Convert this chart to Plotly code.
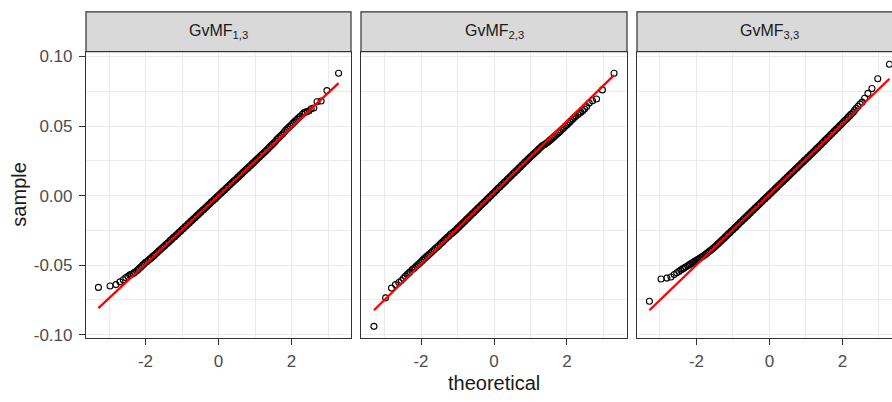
import plotly.graph_objects as go

# ---------------- data ----------------
panel_labels = ["GvMF<sub>1,3</sub>", "GvMF<sub>2,3</sub>", "GvMF<sub>3,3</sub>"]

# theoretical normal quantiles
theo_low_tail = [-3.29, -2.97, -2.81, -2.70, -2.61, -2.54, -2.48, -2.43, -2.38, -2.34, -2.30]
theo_body = [
    -2.24, -2.20, -2.16, -2.12, -2.08, -2.04, -2.00, -1.96, -1.92, -1.88, -1.84,
    -1.80, -1.76, -1.72, -1.68, -1.64, -1.60, -1.56, -1.52, -1.48, -1.44, -1.40,
    -1.36, -1.32, -1.28, -1.24, -1.20, -1.16, -1.12, -1.08, -1.04, -1.00, -0.96,
    -0.92, -0.88, -0.84, -0.80, -0.76, -0.72, -0.68, -0.64, -0.60, -0.56, -0.52,
    -0.48, -0.44, -0.40, -0.36, -0.32, -0.28, -0.24, -0.20, -0.16, -0.12, -0.08,
    -0.04, 0.00, 0.04, 0.08, 0.12, 0.16, 0.20, 0.24, 0.28, 0.32, 0.36,
    0.40, 0.44, 0.48, 0.52, 0.56, 0.60, 0.64, 0.68, 0.72, 0.76, 0.80,
    0.84, 0.88, 0.92, 0.96, 1.00, 1.04, 1.08, 1.12, 1.16, 1.20, 1.24,
    1.28, 1.32, 1.36, 1.40, 1.44, 1.48, 1.52, 1.56, 1.60, 1.64, 1.68,
    1.72, 1.76, 1.80, 1.84, 1.88, 1.92, 1.96, 2.00, 2.04, 2.08, 2.12,
    2.16, 2.20, 2.24,
]
theo_up_tail = [2.30, 2.34, 2.38, 2.43, 2.48, 2.54, 2.61, 2.70, 2.81, 2.97, 3.29]
theoretical = theo_low_tail + theo_body + theo_up_tail

# sorted sample values, panel 1 (GvMF_1,3)
s1_low = [-0.0660, -0.0650, -0.0640, -0.0620, -0.0605, -0.0590, -0.0580, -0.0570, -0.0565, -0.0560, -0.0552]
s1_body = [
    -0.0540, -0.0532, -0.0520, -0.0512, -0.0500, -0.0492, -0.0480, -0.0474, -0.0465, -0.0455, -0.0448,
    -0.0437, -0.0430, -0.0418, -0.0410, -0.0398, -0.0390, -0.0380, -0.0370, -0.0362, -0.0350, -0.0343,
    -0.0333, -0.0322, -0.0314, -0.0302, -0.0295, -0.0283, -0.0276, -0.0264, -0.0256, -0.0244, -0.0237,
    -0.0224, -0.0217, -0.0205, -0.0197, -0.0185, -0.0178, -0.0165, -0.0158, -0.0146, -0.0138, -0.0126,
    -0.0118, -0.0106, -0.0099, -0.0087, -0.0079, -0.0067, -0.0059, -0.0047, -0.0039, -0.0028, -0.0020,
    -0.0008, 0.0000, 0.0012, 0.0020, 0.0032, 0.0039, 0.0051, 0.0059, 0.0071, 0.0079, 0.0091,
    0.0099, 0.0110, 0.0118, 0.0130, 0.0138, 0.0150, 0.0158, 0.0169, 0.0178, 0.0189, 0.0197,
    0.0209, 0.0217, 0.0228, 0.0237, 0.0248, 0.0257, 0.0268, 0.0277, 0.0288, 0.0297, 0.0308,
    0.0317, 0.0328, 0.0337, 0.0349, 0.0360, 0.0369, 0.0380, 0.0391, 0.0405, 0.0414, 0.0425,
    0.0434, 0.0445, 0.0457, 0.0470, 0.0480, 0.0490, 0.0501, 0.0510, 0.0521, 0.0530, 0.0541,
    0.0550, 0.0561, 0.0570,
]
s1_up = [0.0585, 0.0595, 0.0600, 0.0605, 0.0610, 0.0625, 0.0630, 0.0675, 0.0680, 0.0755, 0.0880]

# panel 2 (GvMF_2,3)
s2_low = [-0.0940, -0.0735, -0.0665, -0.0640, -0.0625, -0.0610, -0.0595, -0.0580, -0.0568, -0.0558, -0.0548]
s2_body = [
    -0.0532, -0.0524, -0.0515, -0.0505, -0.0495, -0.0486, -0.0475, -0.0466, -0.0455, -0.0446, -0.0436,
    -0.0428, -0.0418, -0.0409, -0.0398, -0.0389, -0.0378, -0.0370, -0.0360, -0.0350, -0.0340, -0.0331,
    -0.0320, -0.0311, -0.0300, -0.0292, -0.0280, -0.0272, -0.0264, -0.0254, -0.0245, -0.0234, -0.0226,
    -0.0213, -0.0205, -0.0193, -0.0185, -0.0172, -0.0164, -0.0152, -0.0143, -0.0131, -0.0123, -0.0111,
    -0.0102, -0.0090, -0.0082, -0.0070, -0.0061, -0.0049, -0.0041, -0.0028, -0.0020, -0.0008, 0.0000,
    0.0013, 0.0021, 0.0033, 0.0042, 0.0054, 0.0062, 0.0074, 0.0083, 0.0095, 0.0103, 0.0116,
    0.0124, 0.0136, 0.0144, 0.0157, 0.0165, 0.0177, 0.0185, 0.0198, 0.0206, 0.0218, 0.0227,
    0.0239, 0.0247, 0.0259, 0.0268, 0.0279, 0.0288, 0.0298, 0.0308, 0.0317, 0.0327, 0.0338,
    0.0347, 0.0358, 0.0364, 0.0370, 0.0378, 0.0386, 0.0395, 0.0404, 0.0413, 0.0422, 0.0432,
    0.0441, 0.0450, 0.0460, 0.0470, 0.0480, 0.0490, 0.0500, 0.0510, 0.0520, 0.0530, 0.0541,
    0.0551, 0.0561, 0.0570,
]
s2_up = [0.0583, 0.0592, 0.0600, 0.0610, 0.0622, 0.0640, 0.0665, 0.0682, 0.0695, 0.0760, 0.0880]

# panel 3 (GvMF_3,3)
s3_low = [-0.0760, -0.0600, -0.0593, -0.0585, -0.0568, -0.0555, -0.0545, -0.0535, -0.0527, -0.0520, -0.0513]
s3_body = [
    -0.0505, -0.0498, -0.0490, -0.0484, -0.0478, -0.0471, -0.0465, -0.0458, -0.0452, -0.0445, -0.0438,
    -0.0431, -0.0423, -0.0415, -0.0407, -0.0399, -0.0391, -0.0382, -0.0373, -0.0364, -0.0354, -0.0345,
    -0.0334, -0.0325, -0.0314, -0.0306, -0.0294, -0.0285, -0.0273, -0.0265, -0.0253, -0.0245, -0.0233,
    -0.0225, -0.0213, -0.0205, -0.0192, -0.0184, -0.0172, -0.0164, -0.0152, -0.0144, -0.0132, -0.0124,
    -0.0111, -0.0103, -0.0091, -0.0083, -0.0071, -0.0063, -0.0051, -0.0043, -0.0030, -0.0022, -0.0010,
    -0.0002, 0.0010, 0.0018, 0.0030, 0.0038, 0.0050, 0.0059, 0.0071, 0.0079, 0.0091, 0.0099,
    0.0111, 0.0119, 0.0131, 0.0140, 0.0152, 0.0160, 0.0172, 0.0180, 0.0192, 0.0200, 0.0212,
    0.0221, 0.0233, 0.0241, 0.0253, 0.0261, 0.0273, 0.0281, 0.0293, 0.0302, 0.0314, 0.0322,
    0.0334, 0.0343, 0.0355, 0.0364, 0.0376, 0.0385, 0.0397, 0.0406, 0.0418, 0.0427, 0.0439,
    0.0448, 0.0460, 0.0469, 0.0481, 0.0490, 0.0502, 0.0511, 0.0522, 0.0532, 0.0543, 0.0553,
    0.0564, 0.0575, 0.0586,
]
s3_up = [0.0600, 0.0615, 0.0628, 0.0642, 0.0658, 0.0672, 0.0700, 0.0735, 0.0770, 0.0840, 0.0944]

samples = [s1_low + s1_body + s1_up, s2_low + s2_body + s2_up, s3_low + s3_body + s3_up]

# reference (qq) line per panel: intercept, slope
qq_intercepts = [0.0000, 0.0021, 0.0008]
qq_slopes = [0.0246, 0.0257, 0.0253]

x_tick_vals = [-2, 0, 2]
x_tick_text = ["-2", "0", "2"]
y_tick_vals = [-0.10, -0.05, 0.00, 0.05, 0.10]
y_tick_text = ["-0.10", "-0.05", "0.00", "0.05", "0.10"]

x_title = "theoretical"
y_title = "sample"

# ---------------- layout geometry ----------------
W, H = 892, 402
panel_px = [(86, 351), (361, 627), (637, 892)]
x_ranges = [[-3.63, 3.63], [-3.645, 3.645], [-3.63, 3.36]]
plot_top, plot_bot = 49, 343
strip_top = 8

y_dom = [1 - plot_bot / H, 1 - plot_top / H]
y_range = [-0.1021, 0.1035]

BORDER = "#333333"
GRID = "#EBEBEB"
TICKCOL = "#4D4D4D"
FONT = "Liberation Sans, Arial, sans-serif"

fig = go.Figure()

for i in range(3):
    xa = "x" if i == 0 else f"x{i+1}"
    ya = "y" if i == 0 else f"y{i+1}"
    n = min(len(theoretical), len(samples[i]))
    fig.add_trace(go.Scatter(
        x=theoretical[:n], y=samples[i][:n], mode="markers", xaxis=xa, yaxis=ya,
        marker=dict(symbol="circle-open", size=6, color="black", line=dict(width=1.1, color="black")),
        showlegend=False, hoverinfo="x+y",
    ))
    xs = [min(theoretical), max(theoretical)]
    ys = [qq_intercepts[i] + qq_slopes[i] * v for v in xs]
    fig.add_trace(go.Scatter(
        x=xs, y=ys, mode="lines", xaxis=xa, yaxis=ya,
        line=dict(color="#FF0000", width=2.3), showlegend=False, hoverinfo="skip",
    ))

layout = dict(
    width=W, height=H,
    margin=dict(l=0, r=0, t=0, b=0),
    paper_bgcolor="white", plot_bgcolor="white",
    font=dict(family=FONT, color=TICKCOL),
    showlegend=False,
)

for i in range(3):
    x0, x1 = panel_px[i]
    key_x = "xaxis" if i == 0 else f"xaxis{i+1}"
    key_y = "yaxis" if i == 0 else f"yaxis{i+1}"
    ya_name = "y" if i == 0 else f"y{i+1}"
    xa_name = "x" if i == 0 else f"x{i+1}"
    layout[key_x] = dict(
        domain=[x0 / W, min(x1 / W, 1.0)], range=x_ranges[i], anchor=ya_name,
        tickvals=x_tick_vals, ticktext=x_tick_text,
        ticks="outside", ticklen=6, tickwidth=1, tickcolor=BORDER, ticklabelstandoff=2,
        tickfont=dict(size=17, color=TICKCOL, family=FONT),
        showgrid=True, gridcolor=GRID, gridwidth=1.2, zeroline=False,
        minor=dict(dtick=1, tick0=0, showgrid=True, gridcolor=GRID, gridwidth=0.6, ticks=""),
        showline=True, linecolor=BORDER, linewidth=1.2, mirror=True,
        fixedrange=True,
    )
    layout[key_y] = dict(
        domain=y_dom, range=y_range, anchor=xa_name,
        tickvals=y_tick_vals, ticktext=y_tick_text,
        showticklabels=(i == 0),
        ticks="outside" if i == 0 else "", ticklen=6, tickwidth=1, tickcolor=BORDER,
        ticklabelstandoff=3,
        tickfont=dict(size=17, color=TICKCOL, family=FONT),
        showgrid=True, gridcolor=GRID, gridwidth=1.2, zeroline=False,
        minor=dict(dtick=0.025, tick0=0, showgrid=True, gridcolor=GRID, gridwidth=0.6, ticks=""),
        showline=True, linecolor=BORDER, linewidth=1.2, mirror=(True if i < 2 else False),
        fixedrange=True,
    )

fig.update_layout(**layout)

# strips
shapes = []
annotations = []
strip_right_px = [351, 627, 902]
for i in range(3):
    x0 = panel_px[i][0] / W
    x1 = strip_right_px[i] / W
    shapes.append(dict(
        type="rect", xref="paper", yref="paper",
        x0=x0, x1=x1, y0=1 - plot_top / H, y1=1 - strip_top / H,
        fillcolor="#D9D9D9", line=dict(color=BORDER, width=1.2), layer="above",
    ))
    annotations.append(dict(
        xref="paper", yref="paper",
        x=(panel_px[i][0] + strip_right_px[i]) / 2 / W,
        y=1 - (strip_top + plot_top) / 2 / H,
        text=panel_labels[i], showarrow=False, xanchor="center", yanchor="middle",
        font=dict(size=16, color="#1A1A1A", family=FONT),
    ))

annotations.append(dict(
    xref="paper", yref="paper", x=(86 + 902) / 2 / W, y=1 - 390 / H,
    text=x_title, showarrow=False, xanchor="center", yanchor="middle",
    font=dict(size=20, color="#1A1A1A", family=FONT), borderpad=0,
))
annotations.append(dict(
    xref="paper", yref="paper", x=19 / W, y=1 - 196 / H,
    text=y_title, showarrow=False, xanchor="center", yanchor="middle", textangle=-90,
    font=dict(size=20, color="#1A1A1A", family=FONT), borderpad=0,
))

fig.update_layout(shapes=shapes, annotations=annotations)

fig.write_html("out.html")
